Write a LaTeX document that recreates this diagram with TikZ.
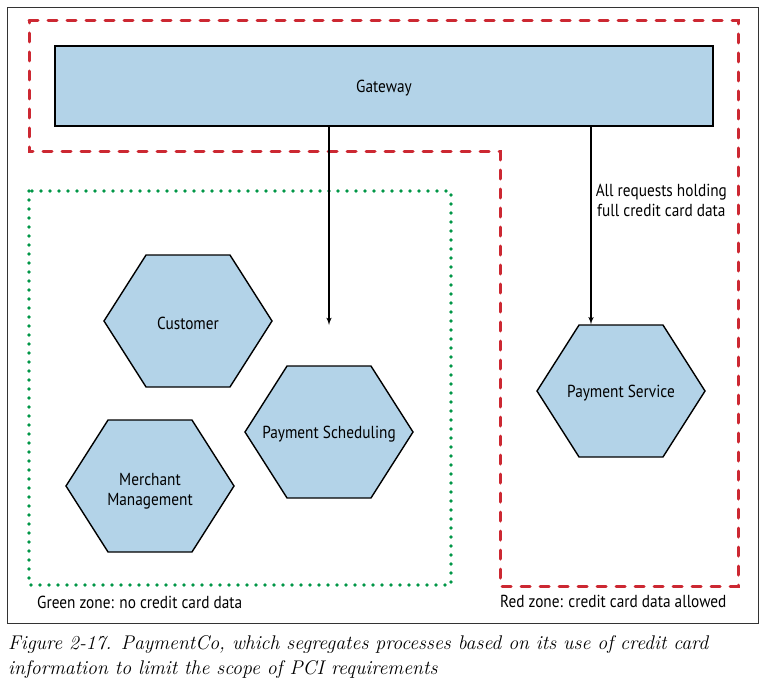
\documentclass[tikz,border=0pt]{standalone}
\usepackage{fontspec}
\newfontfamily\diagfont[FakeStretch=0.88]{PT Sans}
\usepackage{xcolor}
\usepackage{tikz}
\usetikzlibrary{shapes,arrows,positioning}
\definecolor{boxblue}{RGB}{179,211,232}
\definecolor{zonered}{RGB}{204,40,50}
\definecolor{zonegreen}{RGB}{0,150,70}
\newcommand{\txt}{\diagfont\fontsize{17.4}{20}\selectfont}
\tikzstyle{block} = [draw, rectangle, line width=2.2pt, fill=boxblue, minimum width=658pt, minimum height=80pt, font=\txt]
\tikzstyle{service} = [draw, signal, signal to=east and west, signal pointer angle=115, line width=1.4pt, fill=boxblue, minimum width=168pt, minimum height=132pt, inner sep=0pt]
\tikzstyle{note} = [align=center, inner sep=0pt, font=\txt]
\tikzstyle{redzone} = [draw=zonered, line width=3pt, line cap=round, dash pattern=on 9pt off 10pt]
\tikzstyle{greenzone} = [draw=zonegreen, line width=3.6pt, line cap=round, dash pattern=on 0pt off 9pt]

\begin{document}
\begin{tikzpicture}[x=1pt, y=-1pt, >=latex']
	  \useasboundingbox (0,0) rectangle (767,687);
	  \draw [black!80, line width=1pt] (7,8) rectangle (758,623);
	
	  % zones
	  \draw [redzone] (29,21) -- (738,21) -- (738,586) -- (500,586) -- (500,152) -- (29,152) -- cycle;
	  \draw [greenzone] (29,191) rectangle (451,585);
	
	  \node [block, text depth=0pt, yshift=-1pt] (gateway) at (384,85) {Gateway};
	
	  \node [service, label={[note, yshift=-2pt]center:Customer}] (customer) at (188,321) {};
	  \node [service, label={[note, yshift=-2pt]center:Payment Scheduling}] (sched) at (329,432) {};
	  \node [service, label={[note, yshift=-5pt]center:Merchant\\Management}] (merchant) at (150,486) {};
	  \node [service, label={[note, yshift=-2pt]center:Payment Service}] (payment) at (621,391) {};
	
	  \coordinate (drop) at (329,325);
	  \coordinate (tap) at (591,0);
	  \draw [->, line width=1.5pt] (gateway.south -| drop) -- (drop);
	  \draw [->, line width=1.5pt] (gateway.south -| tap) -- node [note, pos=0.37, anchor=west, xshift=4pt] (card) {All requests holding\\full credit card data} (tap |- payment.north);
	
	  \node [note, anchor=west] (greentxt) at (37,602) {Green zone: no credit card data};
	  \node [note, anchor=west] (redtxt) at (500,601) {Red zone: credit card data allowed};
	
	  \node [anchor=north west, align=left, inner sep=0pt, font=\fontsize{19.8}{25}\selectfont\itshape] (caption) at (8,635)
	    {Figure 2-17. PaymentCo, which segregates processes based on its use of credit card\\information to limit the scope of PCI requirements};
	\end{tikzpicture}
\end{document}
